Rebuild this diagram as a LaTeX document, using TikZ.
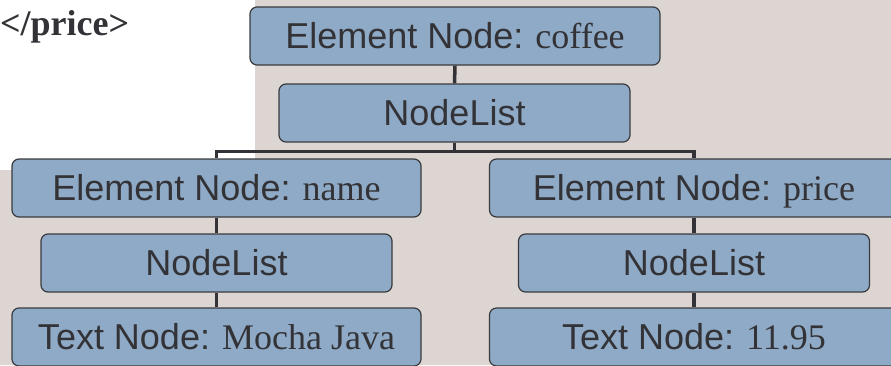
\documentclass[tikz,border=0pt]{standalone}
\usepackage{fontspec}
\setmainfont{Liberation Serif}
\newfontfamily\arialf{Liberation Sans}
\definecolor{bgg}{RGB}{220,213,209}
\definecolor{boxf}{RGB}{143,170,198}
\definecolor{boxd}{RGB}{58,58,62}
\definecolor{txt}{RGB}{51,51,55}
\tikzset{
  treebox/.style={draw=boxd, line width=1.2pt, fill=boxf, rounded corners=7pt,
    inner sep=0pt, minimum height=58pt, text height=25.8pt, text depth=0pt,
    font=\fontsize{36}{40}\selectfont, text=txt},
  conn/.style={draw=txt, line width=3.5pt}
}
\begin{document}
\begin{tikzpicture}[x=1pt,y=-1pt]
\useasboundingbox (0,0) rectangle (891,365);
\clip (0,0) rectangle (891,365);
\fill[bgg] (255,0) -- (891,0) -- (891,365) -- (0,365) -- (0,170) -- (255,170) -- cycle;
\node[anchor=base west, font=\fontsize{36}{40}\selectfont\bfseries, text=txt, inner sep=0pt] (tag) at (0,35) {</price>};

\node[treebox, minimum width=410pt] (coffee) at (455,36) {{\arialf Element Node:} coffee};
\node[treebox, minimum width=351pt] (nl0) at (454.5,113) {\arialf NodeList};

\node[treebox, minimum width=409pt] (name) at (216.5,188) {{\arialf Element Node:} name};
\node[treebox, minimum width=351pt] (nl1) at (216.5,263) {\arialf NodeList};
\node[treebox, minimum width=409pt] (t1) at (216.5,337) {{\arialf Text Node:} Mocha Java};

\node[treebox, minimum width=409pt] (price) at (694,188) {{\arialf Element Node:} price};
\node[treebox, minimum width=351pt] (nl2) at (694,263) {\arialf NodeList};
\node[treebox, minimum width=409pt] (t2) at (694,337) {{\arialf Text Node:} 11.95};

\draw[conn] (coffee.south) -- (nl0.north);
\draw[conn] (nl0.south) -- ++(0,9) coordinate (hb) -| (name.north);
\draw[conn] (hb) -| (price.north);
\draw[conn] (name.south) -- (nl1.north);
\draw[conn] (nl1.south) -- (t1.north);
\draw[conn] (price.south) -- (nl2.north);
\draw[conn] (nl2.south) -- (t2.north);
\end{tikzpicture}
\end{document}
